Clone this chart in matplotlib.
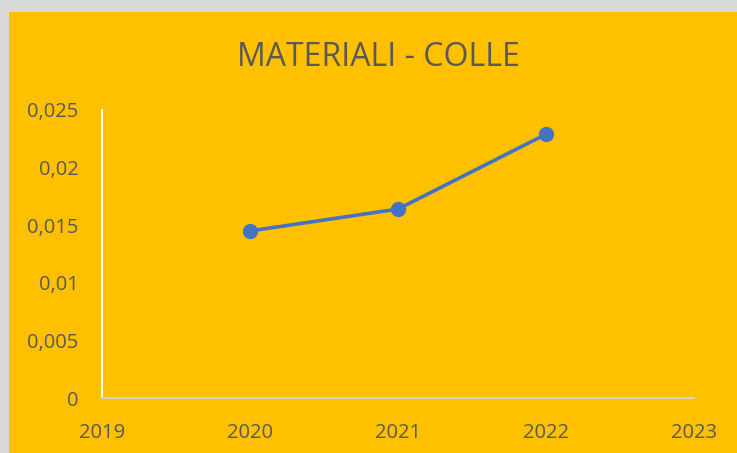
"""Line chart: MATERIALI - COLLE, yearly values 2020-2022."""
import matplotlib
matplotlib.use("Agg")
import matplotlib.pyplot as plt
from matplotlib.patches import Rectangle
from matplotlib.ticker import FuncFormatter

years = [2020, 2021, 2022]
values = [0.0145, 0.0164, 0.0229]
x_ticks = [2019, 2020, 2021, 2022, 2023]
y_ticks = [0, 0.005, 0.01, 0.015, 0.02, 0.025]

ORANGE = "#FFC000"
TEXT = "#595959"

plt.rcParams["font.family"] = ["Open Sans", "DejaVu Sans"]

fig = plt.figure(figsize=(7.37, 4.53), dpi=100)
fig.patch.set_facecolor("#D9D9D9")
# orange chart area inside the light grey frame
fig.add_artist(Rectangle((9 / 737, 0), 1, 1 - 12 / 453, transform=fig.transFigure,
                         facecolor=ORANGE, edgecolor="none", zorder=0))

ax = fig.add_axes([102 / 737, 55 / 453, 592 / 737, 288 / 453])
ax.set_facecolor("none")
ax.plot(years, values, color="#4472C4", lw=2.6, marker="o", ms=10,
        solid_capstyle="round", clip_on=False)

ax.set_xlim(2019, 2023)
ax.set_ylim(0, 0.025)
ax.set_xticks(x_ticks)
ax.set_yticks(y_ticks)
ax.yaxis.set_major_formatter(FuncFormatter(lambda v, _: f"{round(v, 4):g}".replace(".", ",")))
ax.tick_params(length=0, labelsize=14.5, labelcolor=TEXT)
ax.tick_params(axis="y", pad=17)
ax.tick_params(axis="x", pad=18)

for s in ("top", "right"):
    ax.spines[s].set_visible(False)
ax.spines["left"].set_color("white")
ax.spines["left"].set_linewidth(1.5)
ax.spines["bottom"].set_color("#D0D0D0")
ax.spines["bottom"].set_linewidth(1.5)

fig.text(378 / 737, 1 - 57 / 453, "MATERIALI - COLLE", ha="center", va="center",
         fontsize=23, color=TEXT)

fig.savefig("out.png", dpi=100, facecolor=fig.get_facecolor())
